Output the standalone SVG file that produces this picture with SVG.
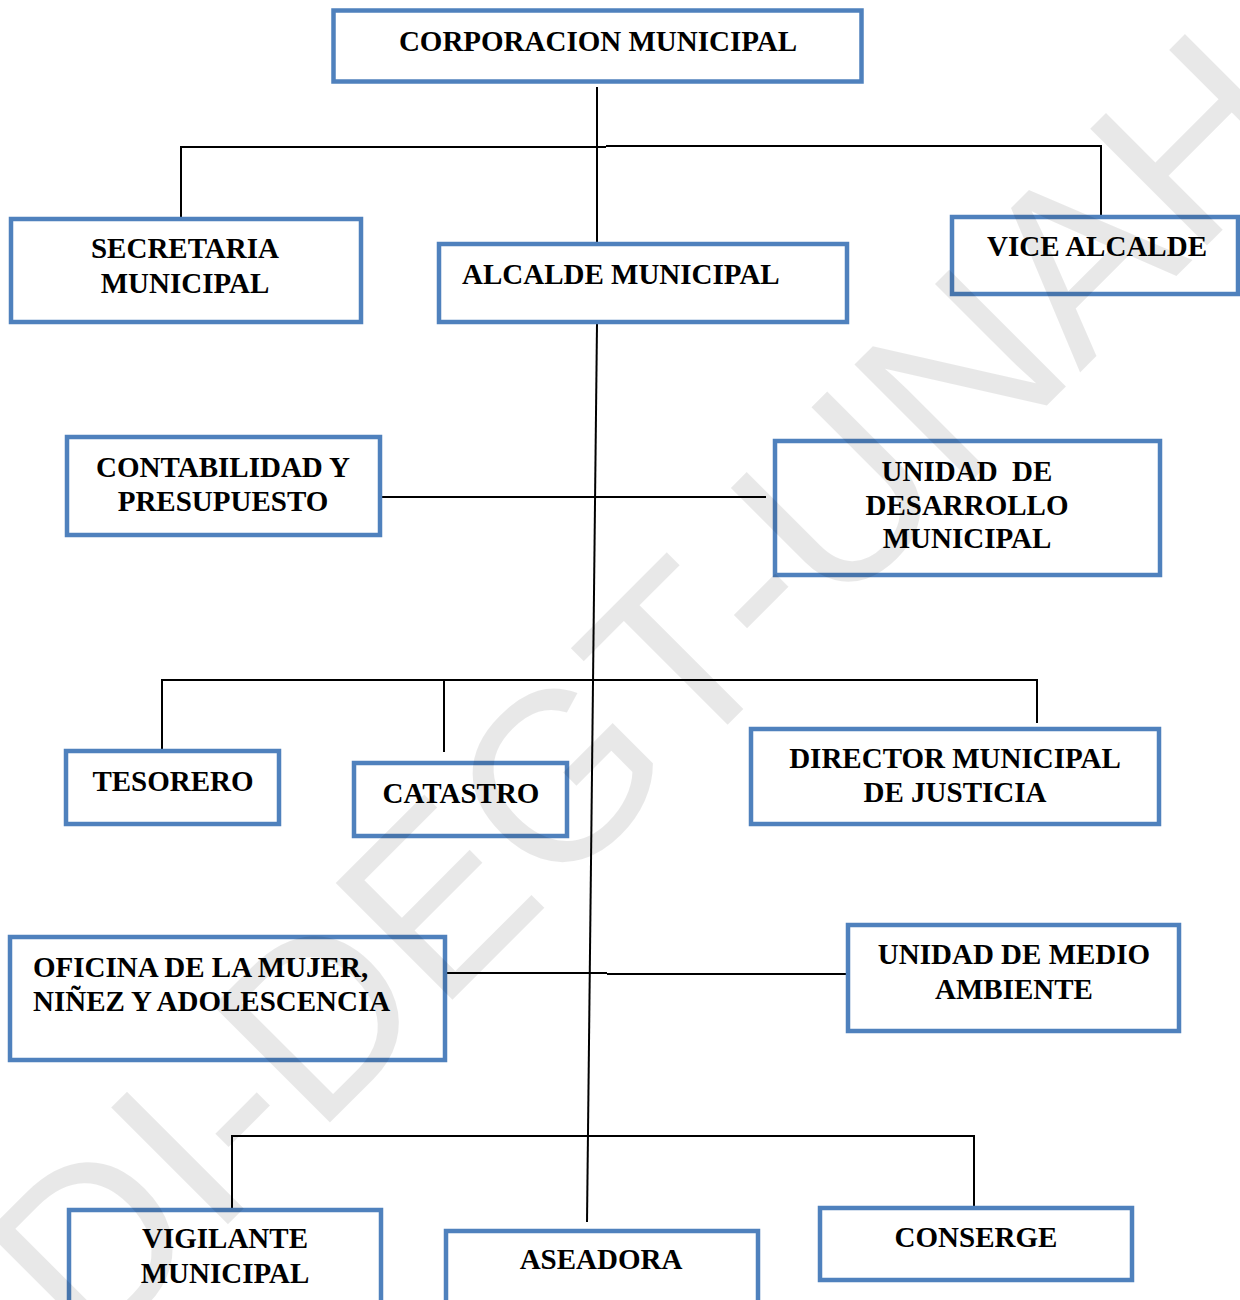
<svg xmlns="http://www.w3.org/2000/svg" width="1240" height="1300" viewBox="0 0 1240 1300">
<style>
.box{fill:#ffffff;stroke:#4F81BD;stroke-width:4.5}
.t{font-family:"Liberation Serif","Times New Roman",serif;font-weight:bold;font-size:29px;fill:#000000}
.c{text-anchor:middle}
.ln{stroke:#000000;stroke-width:2;fill:none}
.wm{font-family:"Liberation Sans",Arial,sans-serif;font-size:240px;fill:#000000;fill-opacity:0.09}
</style>
<rect width="1240" height="1300" fill="#ffffff"/>
<g id="connectors">
<line class="ln" x1="597" y1="87" x2="597" y2="243"/>
<line class="ln" x1="181" y1="147" x2="606" y2="147"/>
<line class="ln" x1="606" y1="146" x2="1101" y2="146"/>
<line class="ln" x1="181" y1="146" x2="181" y2="218"/>
<line class="ln" x1="1101" y1="145" x2="1101" y2="216"/>
<line class="ln" x1="597" y1="324" x2="587" y2="1222"/>
<line class="ln" x1="381" y1="497" x2="766" y2="497"/>
<line class="ln" x1="161" y1="680" x2="1037" y2="680"/>
<line class="ln" x1="162" y1="679" x2="162" y2="751"/>
<line class="ln" x1="444" y1="679" x2="444" y2="752"/>
<line class="ln" x1="1037" y1="679" x2="1037" y2="723"/>
<line class="ln" x1="446" y1="973" x2="607" y2="973"/>
<line class="ln" x1="607" y1="974" x2="848" y2="974"/>
<line class="ln" x1="231" y1="1136" x2="975" y2="1136"/>
<line class="ln" x1="232" y1="1135" x2="232" y2="1208"/>
<line class="ln" x1="974" y1="1135" x2="974" y2="1206"/>
</g>
<g id="corporacion">
<rect class="box" x="333.5" y="10.5" width="528" height="71"/>
<text class="t c" x="598" y="51">CORPORACION MUNICIPAL</text>
</g>
<g id="secretaria">
<rect class="box" x="11" y="219" width="350" height="103"/>
<text class="t c" x="185" y="258">SECRETARIA</text>
<text class="t c" x="185" y="293">MUNICIPAL</text>
</g>
<g id="alcalde">
<rect class="box" x="439" y="244" width="408" height="78"/>
<text class="t" x="462" y="284">ALCALDE MUNICIPAL</text>
</g>
<g id="vice-alcalde">
<rect class="box" x="952" y="217" width="286" height="77"/>
<text class="t c" x="1097" y="256">VICE ALCALDE</text>
</g>
<g id="contabilidad">
<rect class="box" x="67" y="437" width="313" height="98"/>
<text class="t c" x="223" y="477">CONTABILIDAD Y</text>
<text class="t c" x="223" y="511">PRESUPUESTO</text>
</g>
<g id="desarrollo">
<rect class="box" x="775" y="441" width="385" height="134"/>
<text class="t c" x="967" y="481">UNIDAD&#160; DE</text>
<text class="t c" x="967" y="515">DESARROLLO</text>
<text class="t c" x="967" y="548">MUNICIPAL</text>
</g>
<g id="tesorero">
<rect class="box" x="66" y="751" width="213" height="73"/>
<text class="t c" x="173" y="791">TESORERO</text>
</g>
<g id="catastro">
<rect class="box" x="354" y="763" width="213" height="73"/>
<text class="t c" x="461" y="803">CATASTRO</text>
</g>
<g id="director">
<rect class="box" x="751" y="729" width="408" height="95"/>
<text class="t c" x="955" y="768">DIRECTOR MUNICIPAL</text>
<text class="t c" x="955" y="802">DE JUSTICIA</text>
</g>
<g id="oficina-mujer">
<rect class="box" x="10" y="937" width="435" height="123"/>
<text class="t" x="33" y="977">OFICINA DE LA MUJER,</text>
<text class="t" x="33" y="1011">NIÑEZ Y ADOLESCENCIA</text>
</g>
<g id="medio-ambiente">
<rect class="box" x="848" y="925" width="331" height="106"/>
<text class="t c" x="1014" y="964">UNIDAD DE MEDIO</text>
<text class="t c" x="1014" y="999">AMBIENTE</text>
</g>
<g id="vigilante">
<rect class="box" x="69" y="1210" width="312" height="100"/>
<text class="t c" x="225" y="1248">VIGILANTE</text>
<text class="t c" x="225" y="1283">MUNICIPAL</text>
</g>
<g id="aseadora">
<rect class="box" x="446" y="1231" width="312" height="80"/>
<text class="t c" x="601" y="1269">ASEADORA</text>
</g>
<g id="conserge">
<rect class="box" x="820" y="1208" width="312" height="72"/>
<text class="t c" x="976" y="1247">CONSERGE</text>
</g>
<g id="watermark">
<text class="wm" transform="rotate(-45)" x="-900" y="1027">DI-DEGT-UNAH</text>
</g>
</svg>
